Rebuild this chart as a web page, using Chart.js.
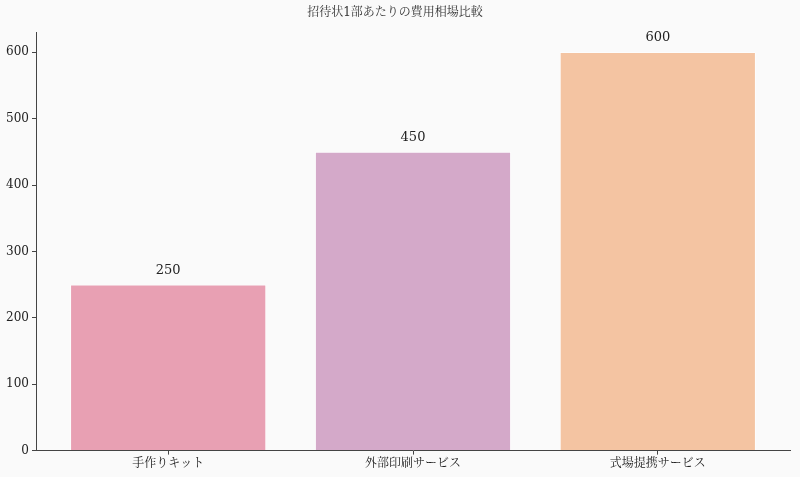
<!DOCTYPE html>
<html><head><meta charset="utf-8">
<script src="https://cdn.jsdelivr.net/npm/chart.js@4.4.0/dist/chart.umd.min.js"></script>
<style>
html,body{margin:0;padding:0;background:#fafafa;}
#wrap{width:800px;height:477px;position:relative;}
</style></head>
<body><div id="wrap"><canvas id="c" width="800" height="477"></canvas></div>
<script>
const categories = ["手作りキット", "外部印刷サービス", "式場提携サービス"];
const values = [250, 450, 600];
const barColors = ["#e8a0b3", "#d4a9c9", "#f4c4a2"];
const yTicks = [0, 100, 200, 300, 400, 500, 600];
const titleText = "招待状1部あたりの費用相場比較";

const FONT = "'DejaVu Serif','Liberation Serif','Noto Serif CJK JP','Noto Sans CJK JP',serif";

const labelPlugin = {
  id: 'vlabels',
  afterDatasetsDraw(chart) {
    const ctx = chart.ctx;
    const meta = chart.getDatasetMeta(0);
    ctx.save();
    ctx.fillStyle = '#222';
    ctx.font = "13px " + FONT;
    ctx.textAlign = 'center';
    ctx.textBaseline = 'bottom';
    meta.data.forEach((bar, i) => {
      ctx.fillText(String(values[i]), bar.x, bar.y - 8);
    });
    ctx.restore();
  }
};

new Chart(document.getElementById('c'), {
  type: 'bar',
  data: {
    datasets: [{
      data: values.map((v, i) => ({x: i, y: v})),
      backgroundColor: barColors,
      borderColor: '#ffffff',
      borderWidth: 0.8,
      barPercentage: 0.8,
      categoryPercentage: 1.0
    }]
  },
  options: {
    responsive: false,
    animation: false,
    layout: {padding: {left: 0, right: 10, top: 0, bottom: 4}},
    plugins: {
      legend: {display: false},
      tooltip: {enabled: false},
      title: {
        display: true, text: titleText, color: '#333',
        font: {family: FONT, size: 12, weight: 'normal'},
        padding: {top: 6, bottom: 12}
      }
    },
    scales: {
      x: {
        type: 'linear', min: -0.54, max: 2.54, offset: false,
        afterBuildTicks: (s) => { s.ticks = categories.map((c, i) => ({value: i})); },
        ticks: {
          callback: (v) => categories[v],
          color: '#222', font: {family: FONT, size: 12}, padding: 2, maxRotation: 0, autoSkip: false
        },
        grid: {display: true, drawOnChartArea: false, drawTicks: true, tickLength: 4, tickColor: '#444', offset: false},
        border: {display: true, color: '#444', width: 1}
      },
      y: {
        min: 0, max: 630,
        afterBuildTicks: (s) => { s.ticks = yTicks.map(v => ({value: v})); },
        ticks: {color: '#222', font: {family: FONT, size: 12}, padding: 3},
        grid: {display: true, drawOnChartArea: false, drawTicks: true, tickLength: 4, tickColor: '#444'},
        border: {display: true, color: '#444', width: 1},
        afterFit: (s) => { s.width = 36; }
      }
    }
  },
  plugins: [labelPlugin, {
    id: 'bg',
    beforeDraw(chart) {
      const ctx = chart.ctx;
      ctx.save(); ctx.fillStyle = '#fafafa'; ctx.fillRect(0, 0, chart.width, chart.height); ctx.restore();
    }
  }]
});
</script></body></html>
